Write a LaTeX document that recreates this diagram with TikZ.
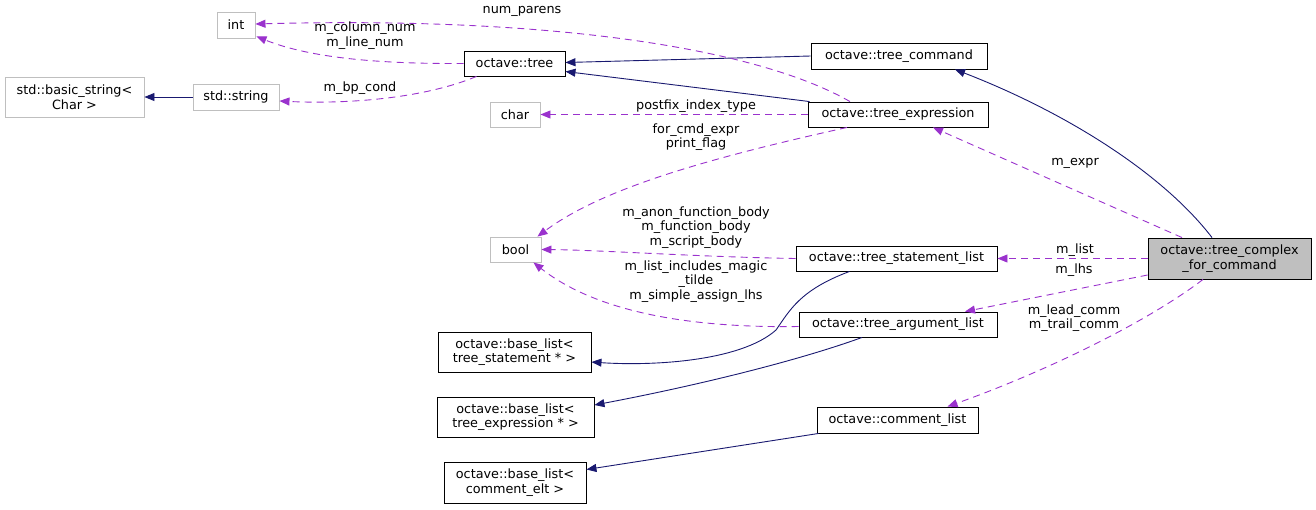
\documentclass[tikz,border=0pt]{standalone}
\usepackage{fontspec}
\newfontfamily\dxfam{DejaVu Sans}
\newcommand\dxfont{\dxfam\fontsize{12.8}{14.5}\selectfont}
\usetikzlibrary{arrows.meta}
\definecolor{navyc}{HTML}{191970}
\definecolor{purp}{HTML}{9A32CD}
\definecolor{boxgray}{HTML}{BFBFBF}
\begin{document}
\begin{tikzpicture}[x=1pt,y=-1pt,
  base/.style={draw, rectangle, inner sep=0pt, align=center, font=\dxfont, line width=0.9pt},
  gbox/.style={base, draw=boxgray},
  bbox/.style={base, draw=black},
  inh/.style={draw=navyc, line width=0.9pt, -{Triangle[length=10pt,width=8pt]}},
  use/.style={draw=purp, line width=0.9pt, dash pattern=on 7pt off 5pt, -{Triangle[length=10pt,width=8pt]}},
  elabel/.style={font=\dxfont, align=center, inner sep=0pt}]
\useasboundingbox (0,0) rectangle (1316,509);
% nodes
\node[gbox, minimum width=38pt, minimum height=26pt] (int) at (236,25) {int};
\node[gbox, minimum width=139pt, minimum height=40pt] (basic) at (74.5,97) {std::basic\_string<\\ Char >};
\node[gbox, minimum width=86pt, minimum height=26pt] (str) at (236,97) {std::string};
\node[bbox, minimum width=101pt, minimum height=25pt] (tree) at (514.5,63.5) {octave::tree};
\node[bbox, minimum width=176pt, minimum height=26pt] (tc) at (899,56) {octave::tree\_command};
\node[gbox, minimum width=50pt, minimum height=25pt] (chr) at (515,114.5) {char};
\node[bbox, minimum width=180pt, minimum height=25pt] (te) at (898,114.5) {octave::tree\_expression};
\node[gbox, minimum width=51pt, minimum height=25pt] (bool) at (515.5,249.5) {bool};
\node[bbox, minimum width=201pt, minimum height=25pt] (tsl) at (896.5,258.5) {octave::tree\_statement\_list};
\node[bbox, minimum width=198pt, minimum height=25pt] (tal) at (898,324.5) {octave::tree\_argument\_list};
\node[bbox, minimum width=153pt, minimum height=40pt] (bls) at (514.5,352) {octave::base\_list<\\ tree\_statement * >};
\node[bbox, minimum width=157pt, minimum height=40pt] (ble) at (515.5,417) {octave::base\_list<\\ tree\_expression * >};
\node[bbox, minimum width=161pt, minimum height=26pt] (cl) at (897.5,420) {octave::comment\_list};
\node[bbox, minimum width=142pt, minimum height=41pt] (blc) at (515,482.5) {octave::base\_list<\\ comment\_elt >};
\node[bbox, fill=boxgray, minimum width=163pt, minimum height=41pt] (cfc) at (1229.5,258.5) {octave::tree\_complex\\\_for\_command};
% inheritance edges
\draw[inh] (tc.west) -- ([yshift=1pt]tree.east);
\draw[inh] ([xshift=2pt]te.north west) -- ([yshift=-8pt]tree.east);
\draw[inh] ([xshift=-17.5pt]cfc.north) .. controls (1160,170) and (1060,110) .. ([xshift=56pt]tc.south);
\draw[inh] (str.west) -- (basic.east);
\draw[inh] ([xshift=-47pt]tsl.south) .. controls (800,290) and (790,310) .. (776,330) .. controls (740,362) and (650,366) .. ([yshift=-10pt]bls.east);
\draw[inh] ([xshift=-36pt]tal.south) .. controls (800,360) and (700,385) .. ([yshift=12pt]ble.east);
\draw[inh] ([xshift=2pt]cl.south west) -- ([yshift=13pt]blc.east);
% usage edges
\draw[use] ([xshift=-48pt]te.north) .. controls (760,50) and (560,16) .. ([yshift=1pt]int.east);
\node[elabel] (lnp) at (522,11) {num\_parens};
\draw[use] (tree.west) .. controls (380,64) and (310,58) .. ([xshift=1pt,yshift=2pt]int.south east);
\node[elabel] (lcol) at (365,35.5) {m\_column\_num\\m\_line\_num};
\draw[use] ([xshift=-38pt]tree.south) .. controls (420,100) and (340,104) .. ([yshift=-4pt]str.east);
\node[elabel] (lbp) at (360,88) {m\_bp\_cond};
\draw[use] (te.west) -- (chr.east);
\node[elabel] (lpf) at (696,106) {postfix\_index\_type};
\draw[use] ([xshift=-51pt]te.south) .. controls (700,160) and (600,190) .. ([xshift=-4pt]bool.north east);
\node[elabel] (lfor) at (696,137) {for\_cmd\_expr\\print\_flag};
\draw[use] (tsl.west) .. controls (700,257) and (600,250) .. (bool.east);
\node[elabel] (lanon) at (696,227.5) {m\_anon\_function\_body\\m\_function\_body\\m\_script\_body};
\draw[use] ([yshift=-2pt]tal.west) .. controls (700,328) and (600,315) .. ([xshift=-8pt]bool.south east);
\node[elabel] (lmagic) at (696,281.5) {m\_list\_includes\_magic\\\_tilde\\m\_simple\_assign\_lhs};
\draw[use] ([xshift=-47.5pt]cfc.north) -- ([xshift=35pt]te.south);
\node[elabel] (lexpr) at (1075,163) {m\_expr};
\draw[use] (cfc.west) -- (tsl.east);
\node[elabel] (llist) at (1075,250) {m\_list};
\draw[use] ([yshift=-16.5pt]cfc.west) -- ([xshift=67pt]tal.north);
\node[elabel] (llhs) at (1074,270) {m\_lhs};
\draw[use] ([xshift=-26.5pt]cfc.south) .. controls (1150,320) and (1050,370) .. ([xshift=50pt]cl.north);
\node[elabel] (lcomm) at (1074,318) {m\_lead\_comm\\m\_trail\_comm};
\end{tikzpicture}
\end{document}
